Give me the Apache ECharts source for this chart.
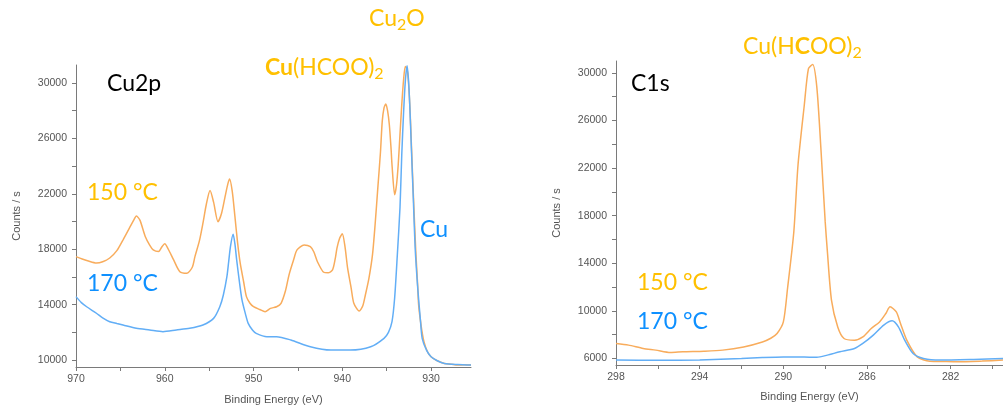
<!DOCTYPE html>
<html>
<head>
<meta charset="utf-8">
<script src="https://cdn.jsdelivr.net/npm/echarts@6/dist/echarts.min.js"></script>
<style>
  html, body { margin: 0; padding: 0; background: #fff; }
  #chart { width: 1003px; height: 410px; }
</style>
</head>
<body>
<div id="chart"></div>
<script>
// Cu 2p region, 150 °C sample
const cu2pEnergy150 = [970.0, 969.3, 968.6, 967.7, 967.0, 966.2, 965.4, 964.7, 964.0, 963.5, 963.2, 962.8, 962.2, 961.7, 961.3, 960.7, 960.3, 960.0, 959.6, 959.0, 958.3, 957.5, 956.9, 956.6, 956.1, 955.7, 955.3, 954.9, 954.5, 954.0, 953.6, 953.2, 952.9, 952.7, 952.4, 952.1, 951.8, 951.5, 951.1, 950.8, 950.4, 950.0, 949.3, 948.7, 948.1, 947.4, 946.9, 946.4, 946.0, 945.5, 945.1, 944.3, 943.6, 943.2, 942.8, 942.1, 941.6, 941.1, 940.8, 940.6, 940.3, 940.0, 939.7, 939.4, 939.0, 938.7, 938.1, 937.7, 937.4, 937.0, 936.6, 936.3, 936.0, 935.7, 935.5, 935.3, 935.1, 934.9, 934.7, 934.5, 934.4, 934.1, 933.9, 933.7, 933.5, 933.3, 933.1, 932.9, 932.7, 932.5, 932.3, 932.1, 931.9, 931.7, 931.5, 931.4, 931.1, 930.8, 930.4, 930.0, 929.3, 928.5, 927.7, 927.0, 926.2, 925.5];
const cu2pCounts150 = [17470, 17300, 17150, 17010, 17100, 17370, 17900, 18680, 19500, 20100, 20400, 20100, 18920, 18300, 17950, 17830, 18200, 18390, 18000, 17230, 16380, 16270, 16700, 17470, 18600, 19880, 21300, 22240, 21400, 19990, 20600, 21810, 22700, 23070, 22200, 20390, 18500, 16990, 15600, 14580, 14100, 13850, 13650, 13490, 13730, 13850, 14100, 15000, 16150, 17200, 17950, 18310, 18190, 17800, 17100, 16340, 16300, 16510, 17300, 18080, 18800, 19110, 18200, 16630, 15200, 14100, 13540, 13900, 14700, 15900, 17590, 19800, 22410, 25000, 27230, 28200, 28490, 28000, 26990, 25200, 24100, 21930, 22600, 24100, 26300, 28440, 30200, 31200, 31000, 29650, 27000, 23620, 20500, 17590, 15300, 13980, 12400, 11330, 10600, 10240, 9950, 9760, 9700, 9640, 9660, 9640];

// Cu 2p region, 170 °C sample
const cu2pEnergy170 = [970.0, 969.4, 968.8, 967.7, 967.0, 966.2, 965.4, 964.7, 963.2, 961.7, 960.2, 958.7, 957.2, 955.7, 954.5, 953.8, 953.4, 953.0, 952.8, 952.6, 952.3, 952.1, 951.9, 951.6, 951.3, 950.9, 950.6, 950.1, 949.7, 948.5, 947.4, 945.8, 943.6, 941.3, 939.1, 936.8, 935.3, 934.8, 934.4, 934.1, 933.8, 933.5, 933.3, 933.1, 932.9, 932.7, 932.55, 932.4, 932.2, 932.0, 931.8, 931.5, 931.2, 931.0, 930.5, 930.0, 929.3, 928.5, 927.0, 925.5];
const cu2pCounts170 = [14580, 14150, 13850, 13380, 13050, 12770, 12640, 12530, 12290, 12170, 12050, 12170, 12290, 12530, 13010, 13850, 14700, 16020, 17100, 18190, 19080, 18400, 17230, 15700, 14340, 13300, 12650, 12150, 11930, 11690, 11690, 11450, 10960, 10720, 10720, 10960, 11570, 12000, 12770, 14500, 17590, 21000, 24820, 27800, 30120, 31250, 30300, 28440, 25000, 21690, 18200, 15180, 12900, 11570, 10700, 10240, 9950, 9760, 9680, 9640];

// C 1s region, 150 °C sample
const c1sEnergy150 = [298.0, 297.4, 296.7, 296.1, 295.4, 294.8, 293.8, 292.9, 291.9, 291.0, 290.6, 290.3, 290.0, 289.8, 289.5, 289.3, 289.0, 288.8, 288.6, 288.4, 288.2, 288.0, 287.9, 287.7, 287.4, 287.1, 286.6, 286.2, 285.8, 285.4, 285.1, 284.9, 284.6, 284.4, 284.1, 283.6, 283.0, 282.3, 281.7, 280.5, 279.5];
const c1sCounts150 = [7260, 7120, 6840, 6700, 6500, 6560, 6610, 6700, 6970, 7390, 7700, 8100, 9070, 11880, 16630, 22240, 27280, 30360, 30700, 28800, 23500, 17500, 15100, 10900, 8650, 7680, 7540, 7810, 8520, 9070, 9780, 10340, 9910, 8940, 7540, 6130, 5770, 5740, 5720, 5780, 5860];

// C 1s region, 170 °C sample
const c1sEnergy170 = [298.0, 296.0, 294.0, 292.0, 291.0, 290.0, 289.0, 288.4, 287.9, 287.3, 286.6, 286.2, 285.7, 285.2, 284.8, 284.5, 284.2, 283.8, 283.3, 282.5, 280.9, 279.5];
const c1sCounts170 = [5860, 5840, 5880, 6000, 6080, 6130, 6120, 6100, 6280, 6560, 6840, 7260, 7960, 8800, 9160, 8650, 7540, 6420, 6000, 5860, 5920, 6000];

// Tick positions and labels
const cu2pYTicks = [10000, 12000, 14000, 16000, 18000, 20000, 22000, 24000, 26000, 28000, 30000];
const cu2pYLabels = [10000, 14000, 18000, 22000, 26000, 30000];
const cu2pXTicks = [970, 965, 960, 955, 950, 945, 940, 935, 930];
const cu2pXLabels = [970, 960, 950, 940, 930];
const c1sYTicks = [6000, 8000, 10000, 12000, 14000, 16000, 18000, 20000, 22000, 24000, 26000, 28000, 30000];
const c1sYLabels = [6000, 10000, 14000, 18000, 22000, 26000, 30000];
const c1sXTicks = [298, 296, 294, 292, 290, 288, 286, 284, 282, 280];
const c1sXLabels = [298, 294, 290, 286, 282];

const ORANGE_LINE = '#F8AC5C';
const BLUE_LINE = '#62AEF6';
const ORANGE_TEXT = '#FFC000';
const BLUE_TEXT = '#0E90FF';
const AXIS_COLOR = '#7a7a7a';
const LABEL_COLOR = '#555';
const LABEL_FONT = 'Liberation Sans, Arial, sans-serif';
const NOTE_FONT = 'Lato, "Open Sans", sans-serif';

function zip(xs, ys) { return xs.map((x, i) => [x, ys[i]]); }
const plainNumber = v => String(v);

function xAxisOf(gridIndex, min, max, ticks, labels, nameGap) {
  return {
    type: 'value', gridIndex, min, max, inverse: true,
    name: 'Binding Energy (eV)', nameLocation: 'middle', nameGap,
    nameTextStyle: { color: LABEL_COLOR, fontSize: 11, fontFamily: LABEL_FONT },
    axisLine: { show: true, onZero: false, lineStyle: { color: AXIS_COLOR, width: 1 } },
    axisTick: { show: true, inside: false, length: 4, customValues: ticks, lineStyle: { color: AXIS_COLOR } },
    axisLabel: { customValues: labels, formatter: plainNumber, margin: 7, color: LABEL_COLOR, fontSize: 10.5, fontFamily: LABEL_FONT },
    splitLine: { show: false }
  };
}

function yAxisOf(gridIndex, min, max, ticks, labels) {
  return {
    type: 'value', gridIndex, min, max,
    name: 'Counts / s', nameLocation: 'middle', nameGap: 54, nameRotate: 90,
    nameTextStyle: { color: LABEL_COLOR, fontSize: 11, fontFamily: LABEL_FONT },
    axisLine: { show: true, onZero: false, lineStyle: { color: AXIS_COLOR, width: 1 } },
    axisTick: { show: true, inside: false, length: 4, customValues: ticks, lineStyle: { color: AXIS_COLOR } },
    axisLabel: { customValues: labels, formatter: plainNumber, margin: 9, color: LABEL_COLOR, fontSize: 10.5, fontFamily: LABEL_FONT },
    splitLine: { show: false }
  };
}

function lineSeries(xi, data, color) {
  return {
    type: 'line', xAxisIndex: xi, yAxisIndex: xi, data,
    showSymbol: false, smooth: 0.25, silent: true,
    lineStyle: { color, width: 1.5 }
  };
}

function note(x, y, text, color, extra) {
  return {
    type: 'text', x, y, silent: true,
    style: Object.assign({
      text, fill: color, font: '23px ' + NOTE_FONT,
      align: 'left', verticalAlign: 'middle'
    }, extra || {})
  };
}

function formulaRich(color) {
  return {
    n: { fill: color, fontSize: 23, fontFamily: NOTE_FONT, lineHeight: 27 },
    b: { fill: color, fontSize: 23, fontFamily: NOTE_FONT, fontWeight: 'bold', lineHeight: 27 },
    s: { fill: color, fontSize: 16, fontFamily: NOTE_FONT, lineHeight: 16, verticalAlign: 'bottom' }
  };
}

const chart = echarts.init(document.getElementById('chart'), null, { renderer: 'canvas' });
chart.setOption({
  backgroundColor: '#ffffff',
  animation: false,
  grid: [
    { left: 76, top: 65, width: 395, height: 302 },
    { left: 616, top: 61, width: 387, height: 304 }
  ],
  xAxis: [
    xAxisOf(0, 925.5, 970, cu2pXTicks, cu2pXLabels, 27),
    xAxisOf(1, 279.5, 298, c1sXTicks, c1sXLabels, 26)
  ],
  yAxis: [
    yAxisOf(0, 9500, 31300, cu2pYTicks, cu2pYLabels),
    yAxisOf(1, 5450, 31000, c1sYTicks, c1sYLabels)
  ],
  series: [
    lineSeries(0, zip(cu2pEnergy150, cu2pCounts150), ORANGE_LINE),
    lineSeries(0, zip(cu2pEnergy170, cu2pCounts170), BLUE_LINE),
    lineSeries(1, zip(c1sEnergy150, c1sCounts150), ORANGE_LINE),
    lineSeries(1, zip(c1sEnergy170, c1sCounts170), BLUE_LINE)
  ],
  graphic: [
    note(107, 84, 'Cu2p', '#000000'),
    note(87, 193, '150 °C', ORANGE_TEXT),
    note(87, 284, '170 °C', BLUE_TEXT),
    note(420, 230, 'Cu', BLUE_TEXT),
    note(265, 68, '{b|Cu}{n|(HCOO)}{s|2}', ORANGE_TEXT, { rich: formulaRich(ORANGE_TEXT) }),
    note(369, 19, '{n|Cu}{s|2}{n|O}', ORANGE_TEXT, { rich: formulaRich(ORANGE_TEXT) }),
    note(631, 84, 'C1s', '#000000'),
    note(743, 47, '{n|Cu(H}{b|C}{n|OO)}{s|2}', ORANGE_TEXT, { rich: formulaRich(ORANGE_TEXT) }),
    note(637, 283, '150 °C', ORANGE_TEXT),
    note(637, 322, '170 °C', BLUE_TEXT)
  ]
});
</script>
</body>
</html>
